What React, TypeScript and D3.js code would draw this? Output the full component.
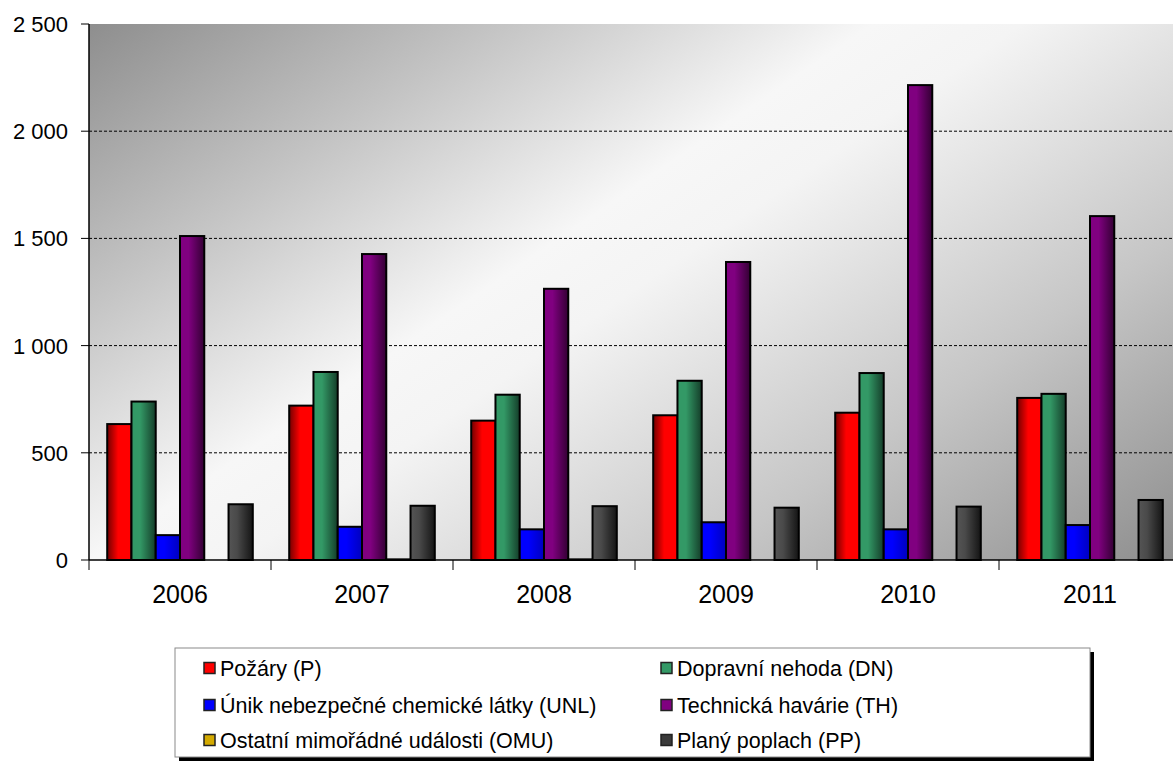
import React from "react";
import * as d3 from "d3";

const years = ["2006", "2007", "2008", "2009", "2010", "2011"];
const seriesNames = [
  "Požáry (P)",
  "Dopravní nehoda (DN)",
  "Únik nebezpečné chemické látky (UNL)",
  "Technická havárie (TH)",
  "Ostatní mimořádné události (OMU)",
  "Planý poplach (PP)",
];
const pozary = [634, 720, 650, 675, 687, 756];
const dopravni = [739, 877, 771, 836, 872, 775];
const unik = [116, 155, 143, 176, 143, 163];
const technicka = [1511, 1427, 1265, 1390, 2215, 1604];
const ostatni = [0, 3, 3, 0, 0, 0];
const plany = [260, 253, 251, 244, 249, 280];
const seriesValues = [pozary, dopravni, unik, technicka, ostatni, plany];
const seriesColors = ["#ff0000", "#339966", "#0000ff", "#800080", "#d4aa00", "#3a3a3a"];
const yTicks = [0, 500, 1000, 1500, 2000, 2500];
const legendOrder = [0, 1, 2, 3, 4, 5];

const W = 1173;
const H = 761;
const left = 89;
const top = 24;
const bottom = 560;
const right = 1181;
const font = "'Liberation Sans', Arial, sans-serif";

const fmt = (v: number) => d3.format(",")(v).replace(/,/g, "\u00a0");

function shade(c: string, k: number) {
  const col = d3.rgb(c);
  return d3.rgb(col.r * k, col.g * k, col.b * k).formatHex();
}

export default function App() {
  const x = d3.scaleBand<string>().domain(years).range([left, right]).paddingInner(0).paddingOuter(0);
  const xi = d3
    .scaleBand<number>()
    .domain(seriesNames.map((_, i) => i))
    .range([0, x.bandwidth()])
    .paddingInner(0)
    .paddingOuter(0.75);
  const y = d3.scaleLinear().domain([0, 2500]).range([bottom, top]);

  const legendRows = [668, 705, 740];
  const legendCols = [{ sq: 204, tx: 220 }, { sq: 661, tx: 677 }];

  return (
    <svg
      width={W}
      height={H}
      style={{ position: "absolute", left: 0, top: 0, display: "block", background: "#fff" }}
    >
      <defs>
        <linearGradient id="bg" gradientUnits="userSpaceOnUse" x1={89} y1={24} x2={684} y2={894}>
          <stop offset="0" stopColor="#8e8e8e" />
          <stop offset="0.22" stopColor="#c4c4c4" />
          <stop offset="0.42" stopColor="#f7f7f7" />
          <stop offset="0.5" stopColor="#f4f4f4" />
          <stop offset="0.75" stopColor="#c6c6c6" />
          <stop offset="1" stopColor="#8e8e8e" />
        </linearGradient>
        {seriesColors.map((c, i) => (
          <linearGradient key={i} id={`bar${i}`} x1="0" y1="0" x2="1" y2="0">
            {i === 0 ? (
              <>
                <stop offset="0" stopColor={shade(c, 0.45)} />
                <stop offset="0.45" stopColor={c} />
                <stop offset="1" stopColor={c} />
              </>
            ) : (
              <>
                <stop offset="0" stopColor={i === 5 ? "#555555" : c} />
                <stop offset="0.35" stopColor={i === 5 ? "#4a4a4a" : c} />
                <stop offset="1" stopColor={shade(i === 5 ? "#333333" : c, i === 2 ? 0.75 : 0.4)} />
              </>
            )}
          </linearGradient>
        ))}
      </defs>

      <rect x={left} y={top} width={right - left} height={bottom - top} fill="url(#bg)" />

      {yTicks
        .filter((t) => t > 0 && t < 2500)
        .map((t) => (
          <line
            key={t}
            x1={left}
            x2={right}
            y1={y(t)}
            y2={y(t)}
            stroke="#000"
            strokeWidth={1}
            strokeDasharray="3,2"
          />
        ))}

      {years.map((yr, gi) =>
        seriesValues.map((vals, si) => {
          const v = vals[gi];
          const bx = (x(yr) as number) + (xi(si) as number);
          const by = y(v);
          const bh = bottom - by;
          if (v <= 0) return null;
          return (
            <rect
              key={`${gi}-${si}`}
              x={bx}
              y={by}
              width={xi.bandwidth()}
              height={Math.max(bh, 0.5)}
              fill={`url(#bar${si})`}
              stroke="#000"
              strokeWidth={2}
            />
          );
        })
      )}

      {/* axes */}
      <line x1={left} x2={left} y1={top} y2={bottom} stroke="#000" strokeWidth={1.5} />
      <line x1={left} x2={right} y1={bottom} y2={bottom} stroke="#000" strokeWidth={1.5} />
      {yTicks.map((t) => (
        <g key={t}>
          <line x1={left - 8} x2={left} y1={y(t)} y2={y(t)} stroke="#000" strokeWidth={1} />
          <text
            x={68}
            y={y(t) + 8}
            textAnchor="end"
            fontFamily={font}
            fontSize={22}
            fill="#000"
          >
            {fmt(t)}
          </text>
        </g>
      ))}
      {years.map((yr) => (
        <g key={yr}>
          <line
            x1={x(yr) as number}
            x2={x(yr) as number}
            y1={bottom}
            y2={bottom + 10}
            stroke="#000"
            strokeWidth={1}
          />
          <text
            x={(x(yr) as number) + x.bandwidth() / 2}
            y={603}
            textAnchor="middle"
            fontFamily={font}
            fontSize={25}
            fill="#000"
          >
            {yr}
          </text>
        </g>
      ))}

      {/* legend */}
      <rect x={179} y={652} width={915} height={109} fill="#000" />
      <rect x={175} y={648} width={915} height={109} fill="#fff" stroke="#8a8a8a" strokeWidth={1} />
      {legendOrder.map((si, k) => {
        const row = legendRows[Math.floor(k / 2)];
        const col = legendCols[k % 2];
        return (
          <g key={si}>
            <rect
              x={col.sq}
              y={row - 5.5}
              width={11}
              height={11}
              fill={seriesColors[si]}
              stroke="#222"
              strokeWidth={1.5}
            />
            <text
              x={col.tx}
              y={row + 7.5}
              fontFamily={font}
              fontSize={21.5}
              fill="#000"
            >
              {seriesNames[si]}
            </text>
          </g>
        );
      })}
    </svg>
  );
}
